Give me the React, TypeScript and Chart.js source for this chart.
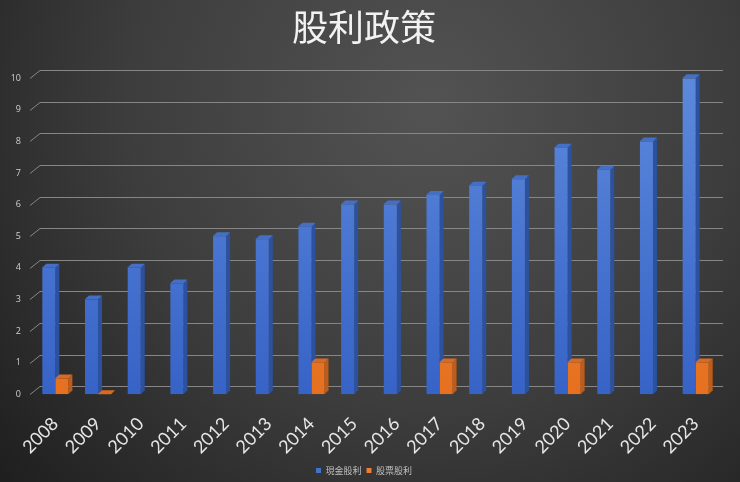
import React, { useEffect, useRef } from "react";
import { Chart, registerables } from "chart.js";

Chart.register(...registerables);

const years = ["2008", "2009", "2010", "2011", "2012", "2013", "2014", "2015", "2016", "2017", "2018", "2019", "2020", "2021", "2022", "2023"];
const cashDividend = [4, 3, 4, 3.5, 5, 4.9, 5.3, 6, 6, 6.3, 6.6, 6.8, 7.8, 7.1, 8, 10];
const stockDividend = [0.5, 0, null, null, null, null, 1, null, null, 1, null, null, 1, null, null, 1];
const seriesNames = ["現金股利", "股票股利"];
const titleText = "股利政策";
const yMax = 10;
const yStep = 1;

const faceTop = ["#5d89dc", "#f38a3c"];
const faceBottom = ["#3663c6", "#e57020"];
const sideColors = ["#2c529f", "#bf5c18"];
const topColors = ["#456fc4", "#d86a22"];
const legendColors = ["#4472c4", "#ed7d31"];

const background = {
  id: "bgGradient",
  beforeDraw(chart: any) {
    const { ctx, width, height } = chart;
    ctx.save();
    const g = ctx.createRadialGradient(width * 0.58, height * 0.22, 10, width * 0.58, height * 0.22, width * 0.8);
    g.addColorStop(0, "#525252");
    g.addColorStop(0.5, "#3d3d3d");
    g.addColorStop(1, "#1c1c1c");
    ctx.fillStyle = g;
    ctx.fillRect(0, 0, width, height);
    ctx.restore();
  },
};

const grid3d = {
  id: "grid3d",
  beforeDatasetsDraw(chart: any) {
    const { ctx, chartArea } = chart;
    const y = chart.scales.y;
    ctx.save();
    ctx.strokeStyle = "#868686";
    ctx.lineWidth = 1;
    y.ticks.forEach((t: any) => {
      const py = Math.round(y.getPixelForValue(t.value)) + 0.5;
      ctx.beginPath();
      ctx.moveTo(chartArea.left - 4, py);
      ctx.lineTo(chartArea.left + 6, py - 8);
      ctx.lineTo(chartArea.right + 6, py - 8);
      ctx.stroke();
    });
    ctx.restore();

    // 3D side and top faces, drawn before the front faces
    const dx = 4;
    const dy = 4;
    ctx.save();
    chart.data.datasets.forEach((ds: any, idx: number) => {
      const meta = chart.getDatasetMeta(idx);
      meta.data.forEach((el: any, i: number) => {
        const v = ds.data[i];
        if (v === null || v === undefined) return;
        const { x, y: top, base, width } = el.getProps(["x", "y", "base", "width"], true);
        const l = x - width / 2;
        const r = x + width / 2;
        ctx.fillStyle = sideColors[idx];
        ctx.beginPath();
        ctx.moveTo(r, top);
        ctx.lineTo(r + dx, top - dy);
        ctx.lineTo(r + dx, base - dy);
        ctx.lineTo(r, base);
        ctx.closePath();
        ctx.fill();
        ctx.fillStyle = topColors[idx];
        ctx.beginPath();
        ctx.moveTo(l - 0.5, top);
        ctx.lineTo(l + dx, top - dy);
        ctx.lineTo(r + dx, top - dy);
        ctx.lineTo(r, top);
        ctx.closePath();
        ctx.fill();
      });
    });
    ctx.restore();
  },
};

function faceGradient(i: number) {
  return (c: any) => {
    const { ctx, chartArea } = c.chart;
    if (!chartArea) return legendColors[i];
    const g = ctx.createLinearGradient(0, chartArea.top, 0, chartArea.bottom);
    g.addColorStop(0, faceTop[i]);
    g.addColorStop(1, faceBottom[i]);
    return g;
  };
}

export default function App() {
  const ref = useRef<HTMLCanvasElement | null>(null);

  useEffect(() => {
    document.body.style.margin = "0";
    const canvas = ref.current;
    if (!canvas) return;
    const chart = new Chart(canvas, {
      type: "bar",
      data: {
        labels: years,
        datasets: [
          {
            label: seriesNames[0],
            data: cashDividend,
            backgroundColor: faceGradient(0),
            categoryPercentage: 0.61,
            barPercentage: 1,
          },
          {
            label: seriesNames[1],
            data: stockDividend as any,
            backgroundColor: faceGradient(1),
            categoryPercentage: 0.61,
            barPercentage: 1,
          },
        ],
      },
      options: {
        animation: false,
        responsive: false,
        maintainAspectRatio: false,
        layout: { padding: { left: 11, right: 23, top: 4, bottom: -3 } },
        plugins: {
          title: {
            display: true,
            text: titleText,
            color: "#f2f2f2",
            font: { family: "'Noto Sans CJK TC', sans-serif", size: 36, weight: "normal" as any },
            padding: { top: 2, bottom: 29 },
          },
          legend: {
            position: "bottom",
            labels: {
              color: "#bfbfbf",
              boxWidth: 5,
              boxHeight: 5,
              padding: 5,
              font: { family: "'Noto Sans CJK TC', sans-serif", size: 9 },
              generateLabels: (chart: any) =>
                chart.data.datasets.map((d: any, i: number) => ({
                  text: d.label,
                  fillStyle: legendColors[i],
                  strokeStyle: legendColors[i],
                  lineWidth: 0,
                  fontColor: "#bfbfbf",
                  hidden: false,
                  datasetIndex: i,
                })),
            },
          },
          tooltip: { enabled: false },
        },
        scales: {
          x: {
            grid: { display: false, drawTicks: false },
            border: { display: false },
            afterFit: (s: any) => {
              s.paddingLeft = 0;
              s.paddingRight = 0;
              s.height -= 16;
            },
            ticks: {
              color: "#e6e6e6",
              autoSkip: false,
              minRotation: 45,
              maxRotation: 45,
              padding: 19,
              font: { family: "Lato, sans-serif", size: 18 },
            },
          },
          y: {
            min: 0,
            max: yMax,
            grid: { display: false, drawTicks: false },
            border: { display: false },
            afterFit: (s: any) => {
              s.width = 23;
            },
            ticks: {
              stepSize: yStep,
              color: "#d0d0d0",
              padding: 13,
              font: { family: "'Open Sans', sans-serif", size: 9 },
            },
          },
        },
      },
      plugins: [background, grid3d],
    });
    return () => chart.destroy();
  }, []);

  return (
    <div style={{ width: 740, height: 482, background: "#2a2a2a" }}>
      <canvas ref={ref} width={740} height={482} style={{ display: "block" }} />
    </div>
  );
}
